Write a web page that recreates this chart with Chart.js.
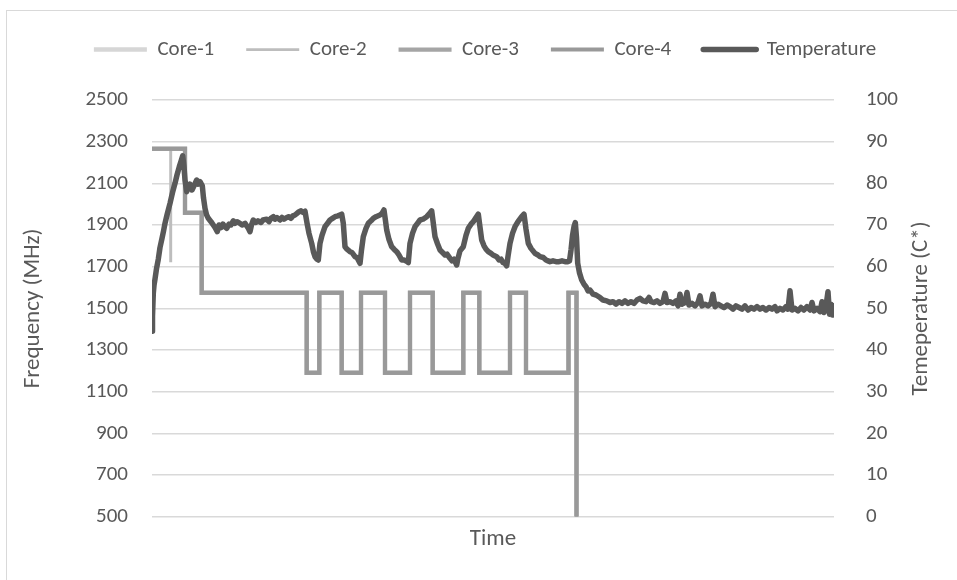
<!DOCTYPE html>
<html>
<head>
<meta charset="utf-8">
<script src="https://cdn.jsdelivr.net/npm/chart.js@4/dist/chart.umd.min.js"></script>
<style>
  html, body { margin: 0; padding: 0; background: #ffffff; }
  #frame {
    position: absolute; left: 6px; top: 10px; width: 1000px; height: 600px;
    border-left: 1.5px solid #d9d9d9; border-top: 1.5px solid #d9d9d9;
  }
  #wrap { position: absolute; left: 0; top: 0; width: 957px; height: 580px; }
</style>
</head>
<body>
<div id="frame"></div>
<div id="wrap"><canvas id="chart" width="957" height="580"></canvas></div>
<script>
// Sample times (s) at which the CPU governor changed a core's frequency
const freqTime = [0, 18.6, 18.8, 33, 49.7, 154.7, 167.3, 189.7, 209, 233, 258, 280.7, 311.3, 327.3, 358, 374, 416.5, 424.5];
const core1MHz = [2265.6, 2265.6, 2265.6, 1958.4, 1574.4, 1190.4, 1574.4, 1190.4, 1574.4, 1190.4, 1574.4, 1190.4, 1574.4, 1190.4, 1574.4, 1190.4, 1574.4, 500];
const core2MHz = [2265.6, 1728.0, 2265.6, 1958.4, 1574.4, 1190.4, 1574.4, 1190.4, 1574.4, 1190.4, 1574.4, 1190.4, 1574.4, 1190.4, 1574.4, 1190.4, 1574.4, 500];
const core3MHz = [2265.6, 2265.6, 2265.6, 1958.4, 1574.4, 1190.4, 1574.4, 1190.4, 1574.4, 1190.4, 1574.4, 1190.4, 1574.4, 1190.4, 1574.4, 1190.4, 1574.4, 500];
const core4MHz = [2265.6, 2265.6, 2265.6, 1958.4, 1574.4, 1190.4, 1574.4, 1190.4, 1574.4, 1190.4, 1574.4, 1190.4, 1574.4, 1190.4, 1574.4, 1190.4, 1574.4, 500];

// Die temperature samples (s, °C)
const tempTime = [
  0, 0.5, 1.3, 2, 3, 4.5, 6.3, 8, 10, 11.5, 13, 15, 18, 20.5, 23, 25, 27.3, 29, 30.7, 32,
  33, 34.7, 36, 38, 40, 42, 44.7, 46, 48, 50.3, 51.5, 53, 54.5, 56.3, 59, 61.3, 63, 65.3, 67, 69,
  71, 73, 74.7, 77, 79, 81.3, 83, 85, 88, 90, 93, 96.3, 98, 99.5, 101.3, 104, 106, 109, 111, 114.7,
  117, 119, 121.3, 123, 125, 128, 130, 132, 134.7, 137, 139, 141, 143, 145, 147, 149, 151, 153, 155, 157,
  159.7, 161.5, 163, 165, 166.3, 168, 170, 173, 175.5, 178, 180.5, 183, 186, 189.7, 191.3, 193, 195, 198, 200, 203,
  205, 208, 209.5, 211.3, 214, 216.3, 219, 221.3, 224, 228, 230, 232, 233.5, 234.7, 237, 239.7, 242, 244.7, 247, 249.7,
  252, 254, 256.3, 258, 260.5, 263, 265.5, 268, 271, 274.7, 277, 279.7, 281, 283, 285.5, 288, 290.5, 293, 295, 298,
  300, 302, 304.7, 306, 308, 311.3, 314, 316.3, 319, 321.3, 324, 326.3, 328, 329.7, 332, 334, 336.3, 339, 341, 344.7,
  347, 349, 351, 353, 354.7, 356, 358, 360.5, 363, 366, 369.7, 372, 374, 376.3, 379, 381, 383, 386, 388, 391.3,
  394, 396, 398, 401, 404, 407, 410, 413, 416, 417.5, 419, 420.5, 422, 423.3, 424.5, 425.7, 427.5, 429.7, 432, 434,
  436, 438, 441, 444, 448, 451, 454.7, 458, 461, 464, 467, 470, 473, 476, 479, 482, 485, 488, 491, 494,
  497, 499, 502, 505, 508, 511, 513, 515, 518, 521, 524, 526, 528, 530, 533, 535, 537, 540, 543, 546,
  548, 550, 553, 556, 559, 561, 563, 566, 569, 572, 575, 578, 581, 584, 587, 590, 593, 596, 599, 602,
  605, 608, 611, 614, 617, 620, 623, 625, 628, 631, 634, 636, 638, 640, 643, 646, 649, 652, 655, 658,
  660, 662, 665, 668, 670, 672, 674, 676, 677.5, 679, 680.5, 682
];
const tempC = [
  44.5, 48, 53.6, 55.5, 57, 59.5, 61.8, 64.6, 66.8, 68.5, 70.4, 72.4, 75.2, 77.8, 80, 82, 84, 85.3, 86.6, 84,
  80.8, 78, 79, 79.8, 78.4, 79.4, 80.8, 79.8, 80.4, 79.4, 76.5, 74, 72.5, 71.6, 70.8, 70, 69.4, 68.4, 70, 69.4,
  70.2, 69.6, 69.2, 70.2, 70, 71, 70.4, 70.8, 70.4, 70, 70.4, 69.2, 68.4, 70, 71.2, 70.6, 71, 70.6, 71.2, 71.4,
  70.8, 71.6, 72, 71.4, 71.8, 71.2, 71.8, 71.4, 71.8, 72, 71.6, 72.2, 72.4, 72.8, 73.2, 73.4, 73, 73.3, 70.5, 68,
  65.6, 63.5, 62.4, 61.8, 61.6, 65.6, 67.5, 69.6, 70.4, 71.2, 71.6, 72, 72.2, 72.6, 70.4, 64.8, 64.2, 63.6, 63.4, 62.4,
  62.2, 60.8, 64, 67.2, 69.2, 70.4, 71, 71.6, 72, 72.4, 72.8, 73.6, 71, 68.8, 66.5, 64.8, 64.2, 63.6, 62.8, 61.6,
  61.6, 61.4, 61, 65.6, 68, 69.6, 70.4, 71.2, 71.4, 72, 72.6, 73.4, 71, 67.2, 65.5, 64, 63.4, 62.8, 63, 62,
  61.4, 61.8, 60.4, 62, 63.8, 64.8, 67.5, 69.2, 70.2, 70.8, 71.8, 72.6, 69.5, 66.4, 65, 64.2, 63.6, 63.2, 62.8, 62.4,
  61.6, 61.8, 61, 60.8, 60.2, 62.5, 65.6, 68, 69.6, 70.8, 72, 72.6, 69, 65.6, 64.4, 63.8, 63.2, 62.8, 62.4, 62.2,
  61.6, 61.4, 61.2, 61.4, 61.2, 61.2, 61.4, 61.2, 61.2, 61.4, 64, 67.5, 69.6, 70.6, 67, 60.8, 58.5, 56.8, 55.8, 55.2,
  54.2, 54.4, 53.4, 53.2, 52.6, 52, 51.8, 51.4, 51.6, 51, 51.6, 51.2, 51.8, 51.2, 51.6, 51.2, 52, 52.4, 51.8, 51.6,
  52.6, 51.6, 51.4, 51.8, 51.2, 51.6, 53.6, 51.4, 51.6, 51.2, 51.8, 50.6, 53.4, 51, 51.4, 53.8, 50.8, 51.2, 50.6, 51.4,
  53, 50.6, 51, 50.6, 51.2, 53.4, 50.4, 51, 50.6, 50.2, 50.8, 50.4, 49.8, 50.6, 50.2, 49.8, 50.6, 49.6, 50.2, 49.8,
  50.4, 49.8, 50.2, 49.6, 50.2, 49.8, 50.4, 49.4, 50, 49.6, 50.4, 49.8, 54.2, 49.6, 50, 49.4, 50.2, 49.6, 50.4, 49.6,
  51.4, 49.4, 50, 49.2, 51.6, 49, 50.6, 54, 48.6, 51, 48.4, 50.6
];

// Axis tick values
const freqTicks = [500, 700, 900, 1100, 1300, 1500, 1700, 1900, 2100, 2300, 2500];
const tempTicks = [0, 10, 20, 30, 40, 50, 60, 70, 80, 90, 100];

const TEXT = '#595959';
const FONT = 'Carlito, Calibri, Lato, sans-serif';

const toPoints = (xs, ys) => xs.map((x, i) => ({ x: x, y: ys[i] }));

// Each frequency value holds until the next change time
function coreSeries(label, values, color, width, order) {
  return {
    label: label,
    data: toPoints(freqTime, values),
    yAxisID: 'yF',
    borderColor: color,
    backgroundColor: color,
    borderWidth: width,
    stepped: 'before',
    pointRadius: 0,
    fill: false,
    order: order
  };
}

// Right-hand axis caption, written bottom-to-top
const rightTitle = {
  id: 'rightTitle',
  afterDraw(chart) {
    const { ctx, chartArea } = chart;
    ctx.save();
    ctx.translate(921, (chartArea.top + chartArea.bottom) / 2);
    ctx.rotate(-Math.PI / 2);
    ctx.fillStyle = TEXT;
    ctx.font = '23px ' + FONT;
    ctx.textAlign = 'center';
    ctx.textBaseline = 'middle';
    ctx.fillText('Temeperature (C*)', 0, 0);
    ctx.restore();
  }
};

const plainNumber = (v) => String(v);

new Chart(document.getElementById('chart'), {
  type: 'line',
  data: {
    datasets: [
      coreSeries('Core-1', core1MHz, '#d6d6d6', 4.5, 4),
      coreSeries('Core-2', core2MHz, '#bdbdbd', 2.75, 3),
      coreSeries('Core-3', core3MHz, '#a5a5a5', 4.25, 2),
      coreSeries('Core-4', core4MHz, '#999999', 4, 1),
      {
        label: 'Temperature',
        data: toPoints(tempTime, tempC),
        yAxisID: 'yT',
        borderColor: '#595959',
        backgroundColor: '#595959',
        borderWidth: 5.5,
        borderJoinStyle: 'round',
        borderCapStyle: 'round',
        tension: 0,
        pointRadius: 0,
        fill: false,
        order: 0
      }
    ]
  },
  options: {
    responsive: false,
    animation: false,
    devicePixelRatio: 1,
    font: { family: FONT },
    layout: { padding: { left: 13, right: 0, top: 7, bottom: 0 } },
    plugins: {
      legend: {
        position: 'top',
        align: 'center',
        labels: {
          boxWidth: 53,
          boxHeight: 0,
          padding: 32,
          color: TEXT,
          font: { family: FONT, size: 21 },
          sort: (a, b) => a.datasetIndex - b.datasetIndex
        }
      },
      subtitle: {
        display: true,
        text: '',
        position: 'top',
        weight: 500,
        font: { size: 10, lineHeight: 1 },
        padding: { top: 0, bottom: 20 }
      },
      tooltip: { enabled: false }
    },
    scales: {
      x: {
        type: 'linear',
        min: 0,
        max: 682,
        ticks: { display: false },
        grid: { display: false },
        border: { display: false },
        title: {
          display: true,
          text: 'Time',
          color: TEXT,
          font: { family: FONT, size: 23 },
          padding: { top: 0, bottom: 27.2 }
        },
        afterFit: (s) => { s.height = 580 - 516.7; }
      },
      yF: {
        type: 'linear',
        position: 'left',
        min: 500,
        max: 2500,
        afterBuildTicks: (s) => { s.ticks = freqTicks.map(v => ({ value: v })); },
        ticks: { color: TEXT, font: { family: FONT, size: 21 }, padding: 24, callback: plainNumber },
        grid: { color: '#d9d9d9', lineWidth: 1.5, drawTicks: false },
        border: { display: false },
        title: {
          display: true,
          text: 'Frequency (MHz)',
          color: TEXT,
          font: { family: FONT, size: 23 },
          padding: { top: 6.7, bottom: 0 }
        },
        afterFit: (s) => { s.width = 152 - 13; }
      },
      yT: {
        type: 'linear',
        position: 'right',
        min: 0,
        max: 100,
        afterBuildTicks: (s) => { s.ticks = tempTicks.map(v => ({ value: v })); },
        ticks: { color: TEXT, font: { family: FONT, size: 21 }, padding: 24, callback: plainNumber },
        grid: { display: false },
        border: { display: false },
        afterFit: (s) => { s.width = 957 - 834; }
      }
    }
  },
  plugins: [rightTitle]
});
</script>
</body>
</html>
